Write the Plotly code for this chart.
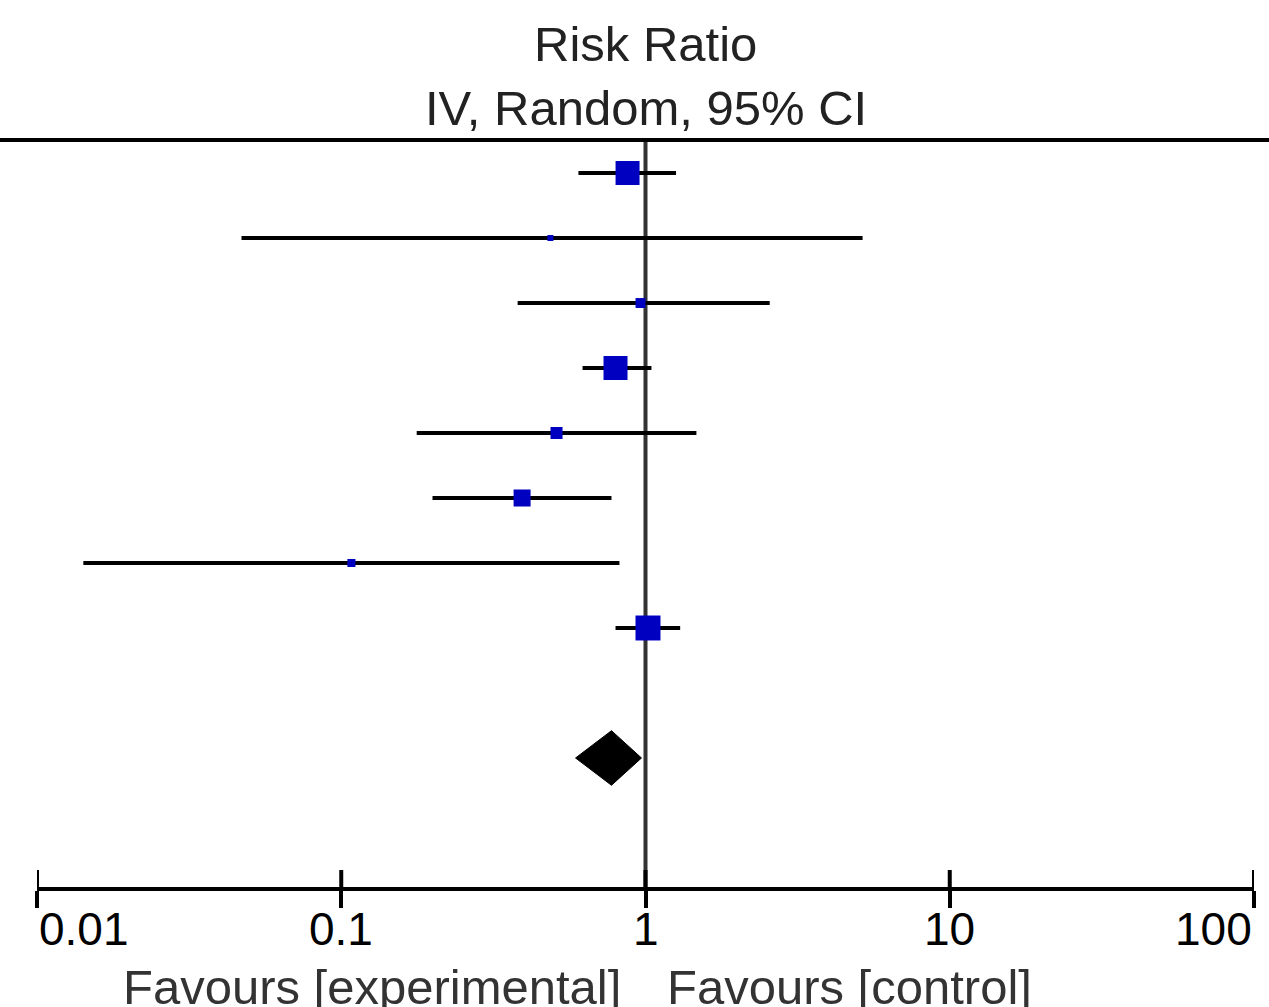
import math
import plotly.graph_objects as go

# ---- data ----
rows = [1, 2, 3, 4, 5, 6, 7, 8]
estimates = [0.873, 0.487, 0.963, 0.797, 0.51, 0.393, 0.108, 1.019]
ci_lower = [0.602, 0.047, 0.38, 0.621, 0.177, 0.1995, 0.0142, 0.797]
ci_upper = [1.26, 5.17, 2.56, 1.046, 1.47, 0.773, 0.821, 1.30]
weights = [23.9, 1.5, 4.1, 23.9, 6.0, 12.0, 2.7, 25.9]

pooled_row = 10
pooled_est = 0.773
pooled_lower = 0.589
pooled_upper = 0.97

tick_values = [0.01, 0.1, 1, 10, 100]
tick_labels = ["0.01", "0.1", "1", "10", "100"]

title_line1 = "Risk Ratio"
title_line2 = "IV, Random, 95% CI"
label_left = "Favours [experimental]"
label_right = "Favours [control]"

# ---- layout constants ----
W, H = 1269, 1007
ML, MR, MT, MB = 37, 15, 140, 120
plot_w = W - ML - MR
plot_h = H - MT - MB
y_top, y_bottom = 0.492, 11.985
FONT = "Liberation Sans, Arial, sans-serif"
BLUE = "#0000C0"

fig = go.Figure()

# reference line at 1
fig.add_trace(go.Scatter(x=[1, 1], y=[y_top, y_bottom], mode="lines",
                         line=dict(color="#333333", width=4),
                         hoverinfo="skip", showlegend=False))

# confidence interval lines
cx, cy = [], []
for r, lo, hi in zip(rows, ci_lower, ci_upper):
    cx += [lo, hi, None]
    cy += [r, r, None]
fig.add_trace(go.Scatter(x=cx, y=cy, mode="lines",
                         line=dict(color="black", width=4),
                         hoverinfo="skip", showlegend=False))

# study squares
size_k = 4.91
fig.add_trace(go.Scatter(x=estimates, y=rows, mode="markers",
                         marker=dict(symbol="square", color=BLUE, opacity=1,
                                     size=[size_k * math.sqrt(w) for w in weights],
                                     line=dict(width=0)),
                         showlegend=False))

# pooled diamond
dh = 0.42
fig.add_trace(go.Scatter(
    x=[pooled_lower, pooled_est, pooled_upper, pooled_est, pooled_lower],
    y=[pooled_row, pooled_row - dh, pooled_row, pooled_row + dh, pooled_row],
    mode="lines", fill="toself", fillcolor="black",
    line=dict(color="black", width=1), showlegend=False, hoverinfo="skip"))

# upper parts of tick marks
tk = 17 / 65.0
tx, ty = [], []
for v in tick_values:
    tx += [v, v, None]
    ty += [y_bottom, y_bottom - tk, None]
fig.add_trace(go.Scatter(x=tx, y=ty, mode="lines",
                         line=dict(color="black", width=4),
                         hoverinfo="skip", showlegend=False))

annotations = []
n = len(tick_values)
for i, (v, lab) in enumerate(zip(tick_values, tick_labels)):
    anchor = "left" if i == 0 else ("right" if i == n - 1 else "center")
    annotations.append(dict(x=math.log10(v), xref="x",
                            y=-(929 - (H - MB)) / plot_h,
                            yref="paper", text=lab, showarrow=False,
                            xanchor=anchor, yanchor="middle",
                            font=dict(family=FONT, size=46, color="black")))

annotations.append(dict(x=(623 - ML) / plot_w, xref="paper",
                        y=-100 / plot_h, yref="paper", text=label_left,
                        showarrow=False, xanchor="right", yanchor="middle",
                        font=dict(family=FONT, size=49, color="#333333")))
annotations.append(dict(x=(665 - ML) / plot_w, xref="paper",
                        y=-100 / plot_h, yref="paper", text=label_right,
                        showarrow=False, xanchor="left", yanchor="middle",
                        font=dict(family=FONT, size=49, color="#333333")))
annotations.append(dict(x=math.log10(1), xref="x", y=1 + (MT - 44) / plot_h,
                        yref="paper", text=title_line1, showarrow=False,
                        xanchor="center", yanchor="middle",
                        font=dict(family=FONT, size=49, color="#222222")))
annotations.append(dict(x=math.log10(1), xref="x", y=1 + (MT - 108) / plot_h,
                        yref="paper", text=title_line2, showarrow=False,
                        xanchor="center", yanchor="middle",
                        font=dict(family=FONT, size=49, color="#222222")))

fig.update_layout(
    width=W, height=H,
    margin=dict(l=ML, r=MR, t=MT, b=MB, pad=0),
    plot_bgcolor="white", paper_bgcolor="white",
    showlegend=False,
    annotations=annotations,
    shapes=[dict(type="line", xref="paper", yref="paper",
                 x0=-ML / plot_w, x1=(W - ML) / plot_w,
                 y0=1, y1=1, line=dict(color="black", width=4))],
    xaxis=dict(type="log", range=[math.log10(tick_values[0]), math.log10(tick_values[-1])],
               showgrid=False, zeroline=False, showline=True, linecolor="black",
               linewidth=4, ticks="outside", ticklen=17, tickwidth=4,
               tickcolor="black", tickvals=tick_values, showticklabels=False),
    yaxis=dict(range=[y_bottom, y_top], visible=False, showgrid=False,
               zeroline=False),
)

fig.write_html("out.html", config={"displayModeBar": False},
               post_script="document.body.style.margin='0';")
